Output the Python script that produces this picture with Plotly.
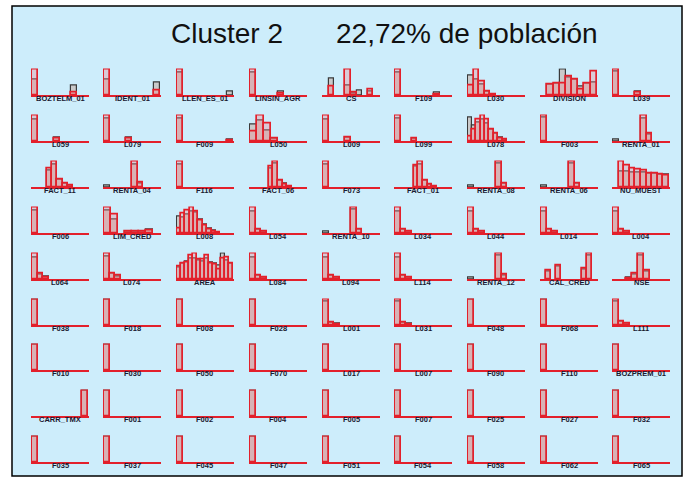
import plotly.graph_objects as go

# ---------------- data (heights relative to panel maximum) ----------------
labels_r1 = ["BOZTELM_01", "IDENT_01", "LLEN_ES_01", "LINSIN_AGR", "CS", "F109", "L030", "DIVISION", "L039"]
cluster_r1 = [
    [1, 0, 0, 0, 0, 0, 0, 0.11, 0, 0],
    [1, 0, 0, 0, 0, 0, 0, 0, 0, 0.17],
    [1, 0, 0, 0, 0, 0, 0, 0, 0, 0],
    [1, 0, 0, 0, 0, 0.05, 0, 0, 0, 0],
    [0, 0.33, 0, 0, 1.0, 0.1, 0, 0, 0.2, 0],
    [1, 0, 0, 0, 0, 0, 0, 0.02, 0, 0],
    [0.36, 1.0, 0.53, 0.12, 0.03, 0, 0, 0, 0, 0],
    [0, 0.4, 0.44, 0.44, 0.73, 0.63, 0.23, 0.44, 0.93],
    [1, 0, 0, 0, 0.1, 0, 0, 0, 0, 0],
]
population_r1 = [
    [0.63, 0, 0, 0, 0, 0, 0, 0.37, 0, 0],
    [0.63, 0, 0, 0, 0, 0, 0, 0, 0, 0.49],
    [0.9, 0, 0, 0, 0, 0, 0, 0, 0, 0.15],
    [0.88, 0, 0, 0, 0, 0.13, 0, 0, 0, 0],
    [0, 0.67, 0, 0, 0.36, 0.05, 0.17, 0, 0.15, 0],
    [0.88, 0, 0, 0, 0, 0, 0, 0.1, 0, 0],
    [0.76, 0.62, 0.4, 0.12, 0.03, 0, 0, 0, 0, 0],
    [0, 0.4, 0.44, 1.0, 0.7, 0.6, 0.33, 0.44, 0.49],
    [0.95, 0, 0, 0, 0.13, 0, 0, 0, 0, 0],
]

labels_r2 = ["L059", "L079", "F009", "L050", "L009", "L099", "L078", "F003", "RENTA_01"]
cluster_r2 = [
    [1, 0, 0, 0, 0.1, 0, 0, 0, 0, 0],
    [1, 0, 0, 0, 0.1, 0, 0, 0, 0, 0],
    [1, 0, 0, 0, 0, 0, 0, 0, 0, 0.02],
    [0.37, 1.0, 0.7, 0.1, 0, 0, 0, 0],
    [1, 0, 0, 0, 0.12, 0, 0, 0, 0, 0],
    [1, 0, 0, 0.08, 0, 0, 0, 0, 0, 0],
    [0.17, 0.44, 0.84, 1.0, 0.84, 0.47, 0.28, 0.1, 0.04, 0, 0, 0, 0],
    [1, 0, 0, 0, 0, 0, 0, 0, 0, 0],
    [0, 0, 0, 0, 0, 1.0, 0.3, 0, 0, 0],
]
population_r2 = [
    [0.85, 0, 0, 0, 0.13, 0, 0, 0, 0, 0],
    [0.9, 0, 0, 0, 0.12, 0, 0, 0, 0, 0],
    [0.88, 0, 0, 0, 0, 0, 0, 0, 0, 0.05],
    [0.64, 0.8, 0.4, 0.1, 0, 0, 0, 0],
    [0.87, 0, 0, 0, 0.15, 0, 0, 0, 0, 0],
    [0.9, 0, 0, 0.1, 0, 0, 0, 0, 0, 0],
    [0.95, 0.6, 0.75, 0.85, 0.7, 0.45, 0.3, 0.12, 0.05, 0, 0, 0, 0],
    [0.95, 0, 0, 0, 0, 0, 0, 0, 0, 0],
    [0.07, 0, 0, 0, 0, 0.9, 0.25, 0, 0, 0],
]

labels_r3 = ["FACT_11", "RENTA_04", "F116", "FACT_06", "F073", "FACT_01", "RENTA_08", "RENTA_06", "NU_MUEST"]
cluster_r3 = [
    [0, 0, 0, 0.73, 1.0, 0.3, 0.13, 0.05, 0, 0, 0],
    [0, 0, 0, 0, 0, 1.0, 0.17, 0, 0, 0],
    [1, 0, 0, 0, 0, 0, 0, 0, 0, 0],
    [0, 0, 0, 0, 0.83, 1.0, 0.27, 0.11, 0.03, 0, 0, 0],
    [1, 0, 0, 0, 0, 0, 0, 0, 0, 0],
    [0, 0, 0, 0, 0.87, 1.0, 0.24, 0.1, 0.03, 0, 0, 0],
    [0, 0, 0, 0, 0, 1.0, 0.15, 0, 0, 0],
    [0, 0, 0, 0, 0, 1.0, 0.15, 0, 0, 0],
    [0, 1.0, 0.87, 0.75, 0.7, 0.65, 0.55, 0.52, 0.48, 0.45],
]
population_r3 = [
    [0, 0, 0, 0.65, 0.9, 0.3, 0.15, 0.05, 0, 0, 0],
    [0.05, 0, 0, 0, 0, 0.9, 0.15, 0, 0, 0],
    [0.88, 0, 0, 0, 0, 0, 0, 0, 0, 0],
    [0, 0, 0, 0, 0.75, 0.92, 0.27, 0.12, 0.03, 0, 0, 0],
    [0.9, 0, 0, 0, 0, 0, 0, 0, 0, 0],
    [0, 0, 0, 0, 0.8, 0.9, 0.25, 0.1, 0.03, 0, 0, 0],
    [0.05, 0, 0, 0, 0, 0.92, 0.13, 0, 0, 0],
    [0.05, 0, 0, 0, 0, 0.92, 0.13, 0, 0, 0],
    [0, 0.6, 0.6, 0.58, 0.57, 0.56, 0.55, 0.53, 0.5, 0.48],
]

labels_r4 = ["F006", "LIM_CRED", "L008", "L054", "RENTA_10", "L034", "L044", "L014", "L004"]
cluster_r4 = [
    [1, 0, 0, 0, 0, 0, 0, 0, 0, 0],
    [1.0, 0.75, 0, 0.06, 0.06, 0.06, 0.1, 0],
    [0.17, 0.77, 0.91, 1.0, 0.84, 0.51, 0.31, 0.15, 0.07, 0.03, 0, 0, 0],
    [1.0, 0.13, 0.05, 0, 0, 0, 0, 0, 0, 0],
    [0, 0, 0, 0, 0, 1.0, 0.15, 0, 0, 0],
    [1.0, 0.13, 0.05, 0, 0, 0, 0, 0, 0, 0],
    [1.0, 0.13, 0.05, 0, 0, 0, 0, 0, 0, 0],
    [1.0, 0.13, 0.04, 0, 0, 0, 0, 0, 0, 0],
    [1.0, 0.13, 0.05, 0, 0, 0, 0, 0, 0, 0],
]
population_r4 = [
    [0.88, 0, 0, 0, 0, 0, 0, 0, 0, 0],
    [0.9, 0.53, 0, 0.05, 0.05, 0.05, 0.12, 0],
    [0.67, 0.6, 0.75, 0.85, 0.8, 0.55, 0.35, 0.18, 0.08, 0.03, 0, 0, 0],
    [0.85, 0.12, 0.05, 0, 0, 0, 0, 0, 0, 0],
    [0.04, 0, 0, 0, 0, 0.92, 0.13, 0, 0, 0],
    [0.85, 0.12, 0.05, 0, 0, 0, 0, 0, 0, 0],
    [0.84, 0.12, 0.05, 0, 0, 0, 0, 0, 0, 0],
    [0.84, 0.12, 0.04, 0, 0, 0, 0, 0, 0, 0],
    [0.85, 0.12, 0.05, 0, 0, 0, 0, 0, 0, 0],
]

labels_r5 = ["L064", "L074", "AREA", "L084", "L094", "L114", "RENTA_12", "CAL_CRED", "NSE"]
cluster_r5 = [
    [1.0, 0.2, 0.07, 0, 0, 0, 0, 0, 0, 0],
    [1.0, 0.23, 0.12, 0, 0, 0, 0, 0, 0, 0],
    [0.49, 0.63, 0.67, 0.95, 1.0, 0.79, 0.76, 0.92, 0.63, 0.56, 0.36, 0.83, 0.87, 0.63],
    [1.0, 0.13, 0.05, 0, 0, 0, 0, 0, 0, 0],
    [1.0, 0.15, 0.05, 0, 0, 0, 0, 0, 0, 0],
    [1.0, 0.13, 0.05, 0, 0, 0, 0, 0, 0, 0],
    [0, 0, 0, 0, 0, 1.0, 0.16, 0, 0, 0],
    [0, 0.33, 0, 0.53, 0, 0, 0, 0, 0.4, 1.0, 0],
    [0, 0, 0.02, 0.2, 1.0, 0.33, 0, 0, 0],
]
population_r5 = [
    [0.87, 0.18, 0.08, 0, 0, 0, 0, 0, 0, 0],
    [0.9, 0.2, 0.1, 0, 0, 0, 0, 0, 0, 0],
    [0.45, 0.6, 0.7, 0.8, 0.8, 0.75, 0.7, 0.8, 0.65, 0.6, 0.55, 1.0, 0.75, 0.6],
    [0.87, 0.12, 0.05, 0, 0, 0, 0, 0, 0, 0],
    [0.87, 0.13, 0.05, 0, 0, 0, 0, 0, 0, 0],
    [0.87, 0.12, 0.05, 0, 0, 0, 0, 0, 0, 0],
    [0.05, 0, 0, 0, 0, 0.92, 0.14, 0, 0, 0],
    [0, 0.3, 0, 0.5, 0, 0, 0, 0, 0.38, 0.95, 0],
    [0, 0, 0.04, 0.18, 0.95, 0.3, 0, 0, 0],
]

labels_r6 = ["F038", "F018", "F008", "F028", "L001", "L031", "F048", "F068", "L111"]
cluster_r6 = [
    [1, 0, 0, 0, 0, 0, 0, 0, 0, 0],
    [1, 0, 0, 0, 0, 0, 0, 0, 0, 0],
    [1, 0, 0, 0, 0, 0, 0, 0, 0, 0],
    [1, 0, 0, 0, 0, 0, 0, 0, 0, 0],
    [1, 0.08, 0.03, 0, 0, 0, 0, 0, 0, 0],
    [1, 0.08, 0.03, 0, 0, 0, 0, 0, 0, 0],
    [1, 0, 0, 0, 0, 0, 0, 0, 0, 0],
    [1, 0, 0, 0, 0, 0, 0, 0, 0, 0],
    [1, 0.12, 0.05, 0, 0, 0, 0, 0, 0, 0],
]
population_r6 = [
    [1, 0, 0, 0, 0, 0, 0, 0, 0, 0],
    [1, 0, 0, 0, 0, 0, 0, 0, 0, 0],
    [1, 0, 0, 0, 0, 0, 0, 0, 0, 0],
    [1, 0, 0, 0, 0, 0, 0, 0, 0, 0],
    [0.95, 0.08, 0.04, 0, 0, 0, 0, 0, 0, 0],
    [0.95, 0.08, 0.04, 0, 0, 0, 0, 0, 0, 0],
    [1, 0, 0, 0, 0, 0, 0, 0, 0, 0],
    [1, 0, 0, 0, 0, 0, 0, 0, 0, 0],
    [0.93, 0.12, 0.05, 0, 0, 0, 0, 0, 0, 0],
]

labels_r7 = ["F010", "F030", "F050", "F070", "L017", "L007", "F090", "F110", "BOZPREM_01"]
cluster_r7 = [[1, 0, 0, 0, 0, 0, 0, 0, 0, 0] for _ in labels_r7]
population_r7 = [[1, 0, 0, 0, 0, 0, 0, 0, 0, 0] for _ in labels_r7]

labels_r8 = ["CARR_TMX", "F001", "F002", "F004", "F005", "F007", "F025", "F027", "F032"]
cluster_r8 = [[0, 0, 0, 0, 0, 0, 0, 0, 0, 1]] + [[1, 0, 0, 0, 0, 0, 0, 0, 0, 0] for _ in labels_r8[1:]]
population_r8 = [[0, 0, 0, 0, 0, 0, 0, 0, 0, 1]] + [[1, 0, 0, 0, 0, 0, 0, 0, 0, 0] for _ in labels_r8[1:]]

labels_r9 = ["F035", "F037", "F045", "F047", "F051", "F054", "F058", "F062", "F065"]
cluster_r9 = [[1, 0, 0, 0, 0, 0, 0, 0, 0, 0] for _ in labels_r9]
population_r9 = [[1, 0, 0, 0, 0, 0, 0, 0, 0, 0] for _ in labels_r9]

title_left = "Cluster 2"
title_right = "22,72% de población"

# ---------------- layout constants ----------------
W, H = 688, 478
COL_X = [31, 103, 176, 249, 322, 394, 467, 540, 612]
ROW_BASE = [95, 141, 187, 233, 279, 325, 370, 416, 462]
PW, PH = 58, 25

RED = "#E3202B"
BG = "#CDEDFB"

labels = [labels_r1, labels_r2, labels_r3, labels_r4, labels_r5, labels_r6, labels_r7, labels_r8, labels_r9]
clusters = [cluster_r1, cluster_r2, cluster_r3, cluster_r4, cluster_r5, cluster_r6, cluster_r7, cluster_r8, cluster_r9]
pops = [population_r1, population_r2, population_r3, population_r4, population_r5, population_r6,
        population_r7, population_r8, population_r9]

fig = go.Figure()
layout = {}
annotations = []

k = 0
for r in range(9):
    for c in range(9):
        k += 1
        sfx = "" if k == 1 else str(k)
        clu = clusters[r][c]
        pop = pops[r][c]
        n = len(clu)
        xs = list(range(n))
        pop_y = [v if v > 0 else None for v in pop]
        clu_y = [v if v > 0 else None for v in clu]
        fig.add_trace(go.Bar(
            x=xs, y=pop_y, xaxis="x" + sfx, yaxis="y" + sfx, width=1.0,
            marker=dict(color="#CACACA", line=dict(color="#3A3A3A", width=1.2)),
            showlegend=False, hoverinfo="skip"))
        fig.add_trace(go.Bar(
            x=xs, y=clu_y, xaxis="x" + sfx, yaxis="y" + sfx, width=1.0,
            marker=dict(color="rgba(245,130,140,0.33)", line=dict(color=RED, width=1.7)),
            showlegend=False, hoverinfo="skip"))
        x0 = COL_X[c]
        yb = ROW_BASE[r]
        layout["xaxis" + sfx] = dict(
            domain=[x0 / W, (x0 + PW) / W], range=[-0.68, n - 0.32],
            showline=True, linecolor=RED, linewidth=2, showgrid=False, zeroline=False,
            showticklabels=False, ticks="", anchor="y" + sfx, fixedrange=True)
        layout["yaxis" + sfx] = dict(
            domain=[1 - yb / H, 1 - (yb - PH - 1.5) / H], range=[0, 1.05],
            visible=False, anchor="x" + sfx, fixedrange=True)
        annotations.append(dict(
            x=(x0 + PW / 2) / W, y=1 - (yb - 3) / H, xref="paper", yref="paper",
            text="<b>" + labels[r][c] + "</b>", showarrow=False, xanchor="center", yanchor="top",
            font=dict(size=7.5, color="#1A1A30", family="Liberation Sans, Arial")))

annotations.append(dict(x=227 / W, y=1 - 33 / H, xref="paper", yref="paper", text=title_left,
                        showarrow=False, xanchor="center", yanchor="middle",
                        font=dict(size=28, color="#111111", family="Liberation Sans, Arial")))
annotations.append(dict(x=467 / W, y=1 - 33 / H, xref="paper", yref="paper", text=title_right,
                        showarrow=False, xanchor="center", yanchor="middle",
                        font=dict(size=28, color="#111111", family="Liberation Sans, Arial")))

fig.update_layout(
    width=W, height=H, margin=dict(l=0, r=0, t=0, b=0),
    paper_bgcolor="white", plot_bgcolor="rgba(0,0,0,0)",
    barmode="overlay", bargap=0,
    annotations=annotations,
    shapes=[dict(type="rect", xref="paper", yref="paper", x0=12 / W, x1=682 / W,
                 y0=1 - 476 / H, y1=1 - 6 / H, fillcolor=BG,
                 line=dict(color="black", width=1.5), layer="below")],
    **layout)

fig.write_html("out.html", config={"displayModeBar": False},
               post_script="document.body.style.margin='0';document.body.style.overflow='hidden';")
